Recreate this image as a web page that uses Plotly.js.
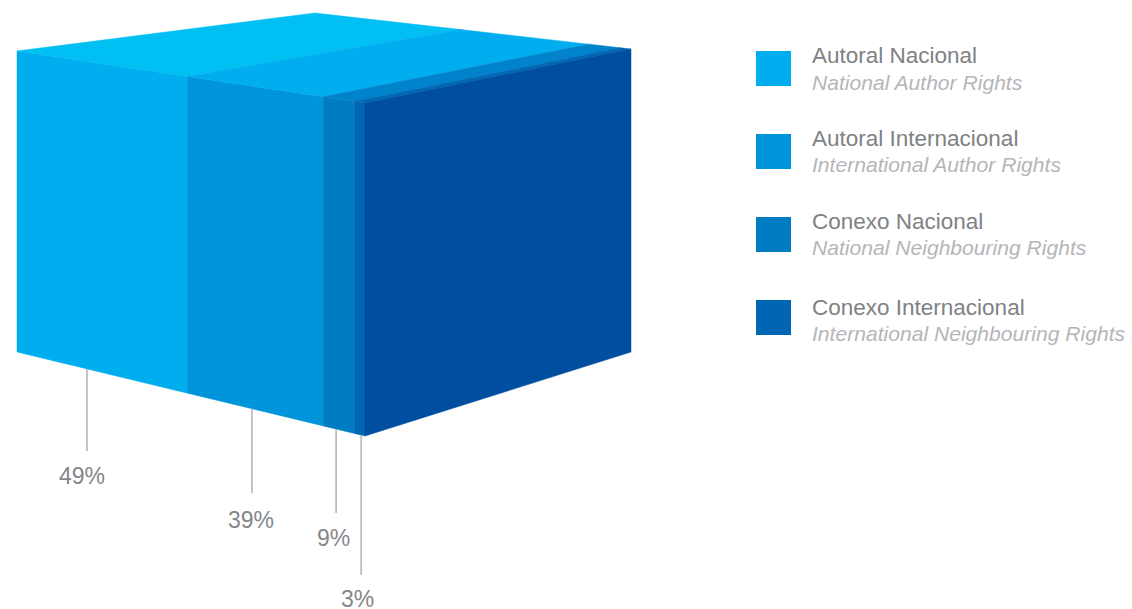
<!DOCTYPE html>
<html>
<head>
<meta charset="utf-8">
<script src="https://cdn.plot.ly/plotly-3.0.1.min.js"></script>
<style>html,body{margin:0;padding:0;background:#fff}#chart{width:1132px;height:609px}</style>
</head>
<body>
<div id="chart"></div>
<script>
// Revenue split shown as a stacked box
const categories = ['Autoral Nacional', 'Autoral Internacional', 'Conexo Nacional', 'Conexo Internacional'];
const categoriesEn = ['National Author Rights', 'International Author Rights', 'National Neighbouring Rights', 'International Neighbouring Rights'];
const shares = [49, 39, 9, 3];
const shareLabels = ['49%', '39%', '9%', '3%'];

const frontColors = ['#00AEEF', '#0095DA', '#007CC3', '#0065B2'];
const topColors = ['#00BFF3', '#00AEEF', '#0083CA', '#0068B4'];
const sideColor = '#004EA0';

// Box corners on screen and the foreshortening of its rear edge
const box = {
  topFrontLeft: [17, 51], topFrontRight: [365, 103],
  topBackLeft: [315, 13], topBackRight: [631, 49],
  bottomFrontLeft: [17, 352], bottomFrontRight: [365, 436],
  bottomBackRight: [631, 352], rearFactor: 1.12
};

// Where each leader leaves the base (fraction of the front width) and where it stops
const leaderAt = [0.201, 0.675, 0.917, 0.989];
const leaderEnd = [451, 493, 513, 575];
const labelPos = [[81.5, 476], [250.5, 520], [333, 538], [357.5, 598.5]];

const legendRowY = [[55, 82], [138, 164.5], [221, 247.5], [307, 333]];
const swatchY = [68.5, 151.5, 234.5, 317.5];

const lerp = (a, b, t) => [a[0] + (b[0] - a[0]) * t, a[1] + (b[1] - a[1]) * t];
const rear = t => t / (t + box.rearFactor * (1 - t));

const total = shares.reduce((s, v) => s + v, 0);
const cuts = [0];
shares.forEach(v => cuts.push(cuts[cuts.length - 1] + v / total));

const polygon = (pts, color, name) => ({
  type: 'scatter', mode: 'lines', fill: 'toself', fillcolor: color,
  x: pts.concat([pts[0]]).map(p => p[0]),
  y: pts.concat([pts[0]]).map(p => p[1]),
  line: {color: color, width: 0.5},
  name: name, hoverinfo: 'name', showlegend: false
});

const traces = [];
shares.forEach((v, i) => {
  const a = cuts[i], b = cuts[i + 1];
  traces.push(polygon([
    lerp(box.topFrontLeft, box.topFrontRight, a),
    lerp(box.topFrontLeft, box.topFrontRight, b),
    lerp(box.bottomFrontLeft, box.bottomFrontRight, b),
    lerp(box.bottomFrontLeft, box.bottomFrontRight, a)
  ], frontColors[i], categories[i]));
  traces.push(polygon([
    lerp(box.topFrontLeft, box.topFrontRight, a),
    lerp(box.topFrontLeft, box.topFrontRight, b),
    lerp(box.topBackLeft, box.topBackRight, rear(b)),
    lerp(box.topBackLeft, box.topBackRight, rear(a))
  ], topColors[i], categories[i]));
});
traces.push(polygon([box.topFrontRight, box.topBackRight, box.bottomBackRight, box.bottomFrontRight], sideColor, 'Total'));

// Leader lines hang from the lower front edge
shares.forEach((v, i) => {
  const start = lerp(box.bottomFrontLeft, box.bottomFrontRight, leaderAt[i]);
  traces.push({
    type: 'scatter', mode: 'lines',
    x: [start[0], start[0]], y: [start[1], leaderEnd[i]],
    line: {color: '#BDBEC0', width: 1.8},
    hoverinfo: 'skip', showlegend: false
  });
});

// Legend swatches
traces.push({
  type: 'scatter', mode: 'markers',
  x: categories.map(() => 773.5), y: swatchY,
  marker: {symbol: 'square', size: 35, color: frontColors, line: {width: 0}},
  text: categories, hoverinfo: 'text', showlegend: false
});

const font = 'Liberation Sans, Arial, sans-serif';
const note = (x, y, text, size, color, anchor) => ({
  x: x, y: y, xref: 'x', yref: 'y', text: text, showarrow: false,
  xanchor: anchor, yanchor: 'middle', font: {family: font, size: size, color: color}
});

const annotations = [];
shareLabels.forEach((t, i) => annotations.push(note(labelPos[i][0], labelPos[i][1], t, 23, '#858689', 'center')));
categories.forEach((t, i) => {
  annotations.push(note(810, legendRowY[i][0], t, 22.5, '#808184', 'left'));
  annotations.push(note(810, legendRowY[i][1], '<i>' + categoriesEn[i] + '</i>', 21.1, '#B5B6B8', 'left'));
});

Plotly.newPlot('chart', traces, {
  width: 1132, height: 609,
  margin: {l: 0, r: 0, t: 0, b: 0},
  paper_bgcolor: '#fff', plot_bgcolor: '#fff',
  showlegend: false,
  xaxis: {range: [0, 1132], visible: false, fixedrange: true},
  yaxis: {range: [609, 0], visible: false, fixedrange: true},
  annotations: annotations
}, {displayModeBar: false, staticPlot: true});
</script>
</body>
</html>
